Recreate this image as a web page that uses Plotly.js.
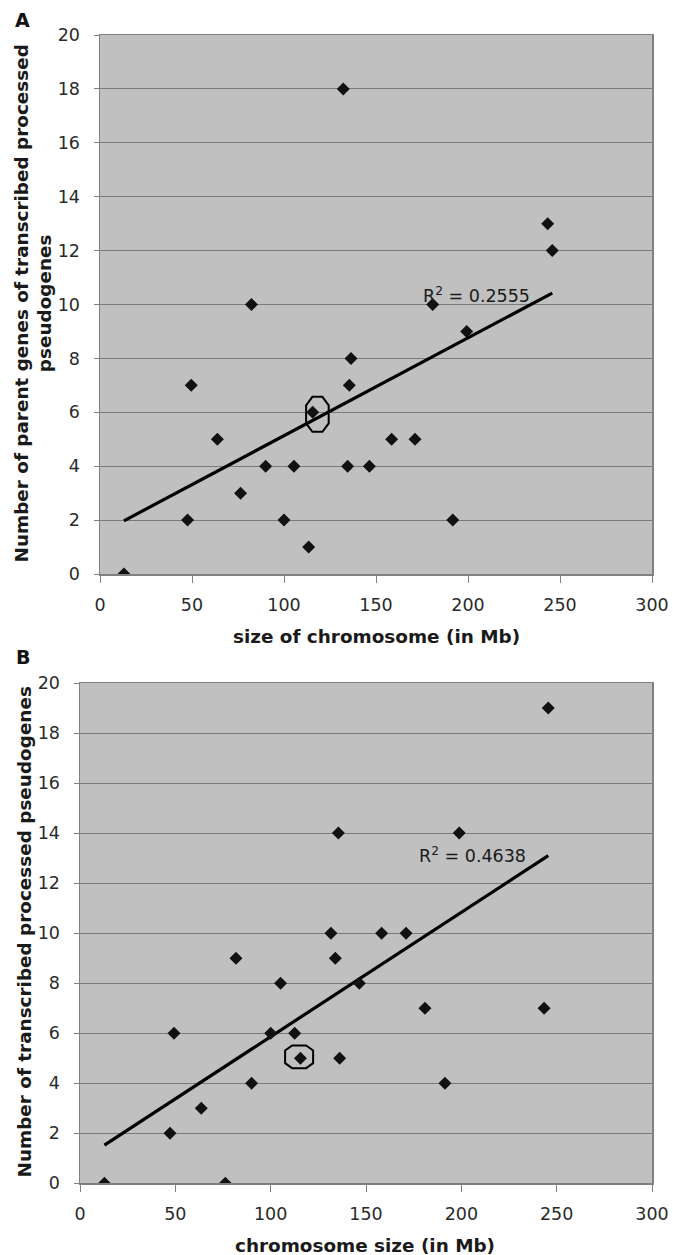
<!DOCTYPE html>
<html>
<head>
<meta charset="utf-8">
<script src="https://cdn.plot.ly/plotly-3.0.1.min.js"></script>
<style>html,body{margin:0;padding:0;background:#fff;}#chart{width:673px;height:1255px;}</style>
</head>
<body>
<div id="chart"></div>
<script>
// Panel A: chromosome size (Mb) vs number of parent genes of transcribed processed pseudogenes
var sizeA = [13, 47.6, 49.6, 63.8, 76.4, 82.3, 90, 100, 105.4, 113.4, 115.6, 132.2, 134.6, 135.5, 136.4, 146.4, 158.5, 171.2, 180.8, 191.7, 199.3, 243.3, 245.8];
var parentsA = [0, 2, 7, 5, 3, 10, 4, 2, 4, 1, 6, 18, 4, 7, 8, 4, 5, 5, 10, 2, 9, 13, 12];
var highlightA = 10;
var r2TextA = "R<sup>2</sup> = 0.2555";

// Panel B: chromosome size (Mb) vs number of transcribed processed pseudogenes
var sizeB = [12.8, 47.2, 49.3, 63.6, 76.2, 81.8, 90, 100, 105.2, 112.6, 115.6, 131.6, 133.9, 135.5, 136.2, 146.5, 158.2, 171, 180.9, 191.4, 198.9, 243.4, 245.6];
var pseudoB = [0, 2, 6, 3, 0, 9, 4, 6, 8, 6, 5, 10, 9, 14, 5, 8, 10, 10, 7, 4, 14, 7, 19];
var highlightB = 10;
var r2TextB = "R<sup>2</sup> = 0.4638";

var xTicks = [0, 50, 100, 150, 200, 250, 300];
var yTicks = [0, 2, 4, 6, 8, 10, 12, 14, 16, 18, 20];

function linfit(xs, ys) {
  var n = xs.length, mx = 0, my = 0;
  for (var i = 0; i < n; i++) { mx += xs[i]; my += ys[i]; }
  mx /= n; my /= n;
  var sxy = 0, sxx = 0;
  for (var j = 0; j < n; j++) { sxy += (xs[j]-mx)*(ys[j]-my); sxx += (xs[j]-mx)*(xs[j]-mx); }
  var b = sxy / sxx, a = my - b*mx;
  var x0 = Math.min.apply(null, xs), x1 = Math.max.apply(null, xs);
  return {x: [x0, x1], y: [a + b*x0, a + b*x1]};
}

var W = 673, H = 1255;
function px(x) { return x / W; }
function py(y) { return 1 - y / H; }

var fitA = linfit(sizeA, parentsA);
var fitB = linfit(sizeB, pseudoB);

var markerStyle = {symbol: 'diamond', size: 10, color: '#111111'};
var traces = [
  {x: fitA.x, y: fitA.y, mode: 'lines', line: {color: '#000', width: 3.2}, xaxis: 'x', yaxis: 'y', hoverinfo: 'skip'},
  {x: sizeA, y: parentsA, mode: 'markers', marker: markerStyle, xaxis: 'x', yaxis: 'y'},
  {x: fitB.x, y: fitB.y, mode: 'lines', line: {color: '#000', width: 3.2}, xaxis: 'x2', yaxis: 'y2', hoverinfo: 'skip'},
  {x: sizeB, y: pseudoB, mode: 'markers', marker: markerStyle, xaxis: 'x2', yaxis: 'y2'}
];

var tickFont = {family: 'DejaVu Sans, Verdana, sans-serif', size: 17.5, color: '#2a2a2a'};
var titleFont = {family: 'DejaVu Sans, Verdana, sans-serif', size: 18.4, color: '#1a1a1a', weight: 'bold'};

function xAxis(domain, anchor) {
  return {domain: domain, anchor: anchor, range: [0, 300], tickvals: xTicks, ticktext: xTicks.map(String),
    ticks: 'outside', ticklen: 7, tickwidth: 1, tickcolor: '#808080', showline: true, linecolor: '#808080',
    linewidth: 1.5, mirror: true, showgrid: false, zeroline: false, tickfont: tickFont, ticklabelstandoff: 7, fixedrange: true};
}
function yAxis(domain, anchor) {
  return {domain: domain, anchor: anchor, range: [0, 20], tickvals: yTicks, ticktext: yTicks.map(String),
    ticks: 'outside', ticklen: 5, tickwidth: 1, tickcolor: '#808080', showline: true, linecolor: '#808080',
    linewidth: 1.5, mirror: true, showgrid: true, gridcolor: '#7a7a7a', gridwidth: 1, zeroline: false,
    tickfont: tickFont, ticklabelstandoff: 10, fixedrange: true};
}

function octagon(dx, dy, w, h, cx, cy) {
  var p = [
    [dx - w + cx, dy + h], [dx + w - cx, dy + h], [dx + w, dy + h - cy], [dx + w, dy - h + cy],
    [dx + w - cx, dy - h], [dx - w + cx, dy - h], [dx - w, dy - h + cy], [dx - w, dy + h - cy]
  ];
  return 'M' + p.map(function (q) { return q[0].toFixed(1) + ',' + q[1].toFixed(1); }).join(' L') + ' Z';
}

var layout = {
  width: W, height: H,
  margin: {l: 0, r: 0, t: 0, b: 0},
  paper_bgcolor: '#ffffff',
  showlegend: false,
  xaxis: xAxis([px(100), px(652)], 'y'),
  yaxis: yAxis([py(574), py(35)], 'x'),
  xaxis2: xAxis([px(80), px(652)], 'y2'),
  yaxis2: yAxis([py(1183.3), py(683)], 'x2'),
  shapes: [
    {type: 'rect', xref: 'x domain', yref: 'y domain', x0: 0, x1: 1, y0: 0, y1: 1, fillcolor: '#c0c0c0', line: {width: 0}, layer: 'below'},
    {type: 'rect', xref: 'x2 domain', yref: 'y2 domain', x0: 0, x1: 1, y0: 0, y1: 1, fillcolor: '#c0c0c0', line: {width: 0}, layer: 'below'},
    {type: 'path', xref: 'x', yref: 'y', xsizemode: 'pixel', ysizemode: 'pixel',
     xanchor: sizeA[highlightA], yanchor: parentsA[highlightA],
     path: octagon(4.7, -2, 11.3, 17.5, 6.3, 8.5), line: {color: '#000', width: 2}, fillcolor: 'rgba(0,0,0,0)'},
    {type: 'path', xref: 'x2', yref: 'y2', xsizemode: 'pixel', ysizemode: 'pixel',
     xanchor: sizeB[highlightB], yanchor: pseudoB[highlightB],
     path: octagon(-1.3, 1.4, 14, 11.3, 7, 5), line: {color: '#000', width: 2}, fillcolor: 'rgba(0,0,0,0)'}
  ],
  annotations: [
    {text: 'A', xref: 'paper', yref: 'paper', x: px(23), y: py(20), xanchor: 'center', yanchor: 'middle', showarrow: false,
     font: {family: 'DejaVu Sans, sans-serif', size: 19, color: '#111', weight: 'bold'}},
    {text: 'B', xref: 'paper', yref: 'paper', x: px(23), y: py(656.5), xanchor: 'center', yanchor: 'middle', showarrow: false,
     font: {family: 'DejaVu Sans, sans-serif', size: 19, color: '#111', weight: 'bold'}},
    {text: 'Number of parent genes of transcribed processed<br>pseudogenes', xref: 'paper', yref: 'paper',
     x: px(32.5), y: py(304), xanchor: 'center', yanchor: 'middle', textangle: -90, showarrow: false, font: titleFont},
    {text: 'size of chromosome (in Mb)', xref: 'paper', yref: 'paper', x: px(376), y: py(636), xanchor: 'center', yanchor: 'middle', showarrow: false, font: titleFont},
    {text: 'Number of transcribed processed pseudogenes', xref: 'paper', yref: 'paper',
     x: px(24), y: py(932.5), xanchor: 'center', yanchor: 'middle', textangle: -90, showarrow: false, font: titleFont},
    {text: 'chromosome size (in Mb)', xref: 'paper', yref: 'paper', x: px(365), y: py(1245), xanchor: 'center', yanchor: 'middle', showarrow: false, font: titleFont},
    {text: r2TextA, xref: 'paper', yref: 'paper', x: px(476), y: py(295), xanchor: 'center', yanchor: 'middle', showarrow: false,
     font: {family: 'DejaVu Sans, Verdana, sans-serif', size: 17.5, color: '#1a1a1a'}},
    {text: r2TextB, xref: 'paper', yref: 'paper', x: px(473), y: py(855), xanchor: 'center', yanchor: 'middle', showarrow: false,
     font: {family: 'DejaVu Sans, Verdana, sans-serif', size: 17.5, color: '#1a1a1a'}}
  ]
};

Plotly.newPlot('chart', traces, layout, {displayModeBar: false, staticPlot: true});
</script>
</body>
</html>
